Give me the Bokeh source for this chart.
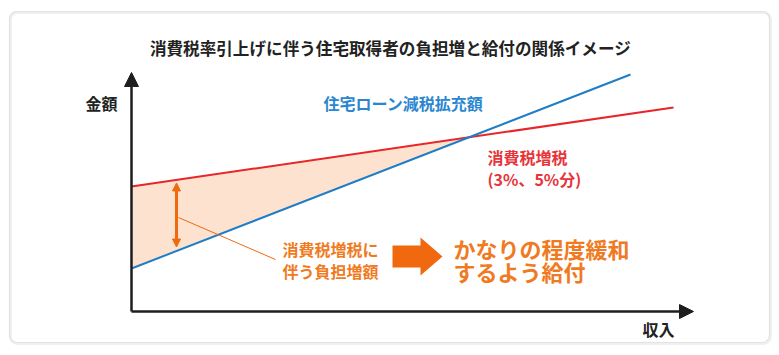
import numpy as np
from bokeh.plotting import figure
from bokeh.models import Range1d, Label, Arrow, NormalHead, BoxAnnotation
from bokeh.embed import file_html
from bokeh.resources import INLINE

# ---- data (conceptual units: income on x, amount on y) ----
income_tax = [0, 542]          # income range of consumption-tax line
tax_burden = [125, 204]        # 消費税増税 (3%、5%分)
income_loan = [0, 499]         # income range of loan-reduction line
loan_reduction = [43, 237]     # 住宅ローン減税拡充額

title_text = "消費税率引上げに伴う住宅取得者の負担増と給付の関係イメージ"
y_axis_label = "金額"
x_axis_label = "収入"
loan_label = "住宅ローン減税拡充額"
tax_label = ["消費税増税", "(3%、5%分)"]
burden_label = ["消費税増税に", "伴う負担増額"]
benefit_label = ["かなりの程度緩和", "するよう給付"]

FONT = "Noto Sans CJK JP"
RED = "#e8262a"
BLUE = "#1f7dc6"
ORANGE = "#f0690f"
ORANGE_TXT = "#f07a22"
FILL = "#fde3cf"
AX = "#1e1e1e"

p = figure(width=779, height=355, output_backend="svg", toolbar_location=None,
           x_range=Range1d(-131, 648), y_range=Range1d(-44, 311),
           x_axis_location=None, y_axis_location=None, min_border=0,
           outline_line_color=None, background_fill_color="white",
           border_fill_color="white")
p.grid.visible = False

# outer rounded frame (drawn underneath everything)
p.add_layout(BoxAnnotation(left=-121, right=639, top=299, bottom=-32, level="underlay",
                           fill_color=None, fill_alpha=0, line_color="#f0f0f0", line_width=3,
                           line_alpha=1, border_radius=7))
p.add_layout(BoxAnnotation(left=-122, right=638, top=300, bottom=-31, level="underlay",
                           fill_color=None, fill_alpha=0, line_color="#e2e2e2", line_width=1.2,
                           line_alpha=1, border_radius=7))

# lines as functions
def red_at(x):
    return tax_burden[0] + (tax_burden[1] - tax_burden[0]) * (x - income_tax[0]) / (income_tax[1] - income_tax[0])

def blue_at(x):
    return loan_reduction[0] + (loan_reduction[1] - loan_reduction[0]) * (x - income_loan[0]) / (income_loan[1] - income_loan[0])

sr = (tax_burden[1] - tax_burden[0]) / (income_tax[1] - income_tax[0])
sb = (loan_reduction[1] - loan_reduction[0]) / (income_loan[1] - income_loan[0])
xi = (tax_burden[0] - loan_reduction[0]) / (sb - sr)
yi = red_at(xi)

# shaded burden area
p.varea(x=[income_tax[0], xi], y1=[blue_at(0), yi], y2=[red_at(0), yi],
        fill_color=FILL, fill_alpha=1)

p.line(income_tax, tax_burden, line_color=RED, line_width=2, line_alpha=1)
p.line(income_loan, loan_reduction, line_color=BLUE, line_width=2, line_alpha=1)

# axes with arrows
p.add_layout(Arrow(x_start=0, y_start=0, x_end=0, y_end=239, line_color=AX, line_width=2.5,
                   end=NormalHead(size=14, fill_color=AX, line_color=AX, line_width=1)))
p.add_layout(Arrow(x_start=0, y_start=0, x_end=562, y_end=0, line_color=AX, line_width=2.5,
                   end=NormalHead(size=14, fill_color=AX, line_color=AX, line_width=1)))

# double arrow showing burden
xm = 45
p.add_layout(Arrow(x_start=xm, y_start=red_at(xm) - 3, x_end=xm, y_end=blue_at(xm) + 4,
                   line_color=ORANGE, line_width=3,
                   start=NormalHead(size=8, fill_color=ORANGE, line_color=ORANGE, line_width=1),
                   end=NormalHead(size=8, fill_color=ORANGE, line_color=ORANGE, line_width=1)))
# leader line
p.line([xm + 2, 144], [94, 52], line_color=ORANGE, line_width=1, line_alpha=1)

# big arrow
ax0, ay = 261, 55
shaft_len, shaft_h, head_len, head_h = 28, 22, 22, 38
bx = [ax0, ax0 + shaft_len, ax0 + shaft_len, ax0 + shaft_len + head_len,
      ax0 + shaft_len, ax0 + shaft_len, ax0]
by = [ay + shaft_h / 2, ay + shaft_h / 2, ay + head_h / 2, ay,
      ay - head_h / 2, ay - shaft_h / 2, ay - shaft_h / 2]
p.patch(bx, by, fill_color=ORANGE, fill_alpha=1, line_color=None)

def lab(x, y, text, color, size, align="left"):
    p.add_layout(Label(x=x, y=y, text=text, text_color=color, text_font=FONT,
                       text_font_size=size, text_font_style="bold",
                       text_align=align, text_baseline="middle"))

lab(259, 264, title_text, "#222222", "16.6px", "center")
lab(-46, 209, y_axis_label, "#222222", "16px")
lab(511, -17, x_axis_label, "#222222", "16px")
lab(192, 209, loan_label, "#2a86d0", "16px")
lab(356, 155, tax_label[0], "#e8333a", "16px")
lab(356, 133, tax_label[1], "#e8333a", "16px")
lab(151, 63, burden_label[0], ORANGE_TXT, "16px")
lab(151, 41, burden_label[1], ORANGE_TXT, "16px")
lab(322, 64, benefit_label[0], ORANGE_TXT, "22px")
lab(322, 41, benefit_label[1], ORANGE_TXT, "22px")

open("out.html", "w").write(file_html(p, INLINE))
